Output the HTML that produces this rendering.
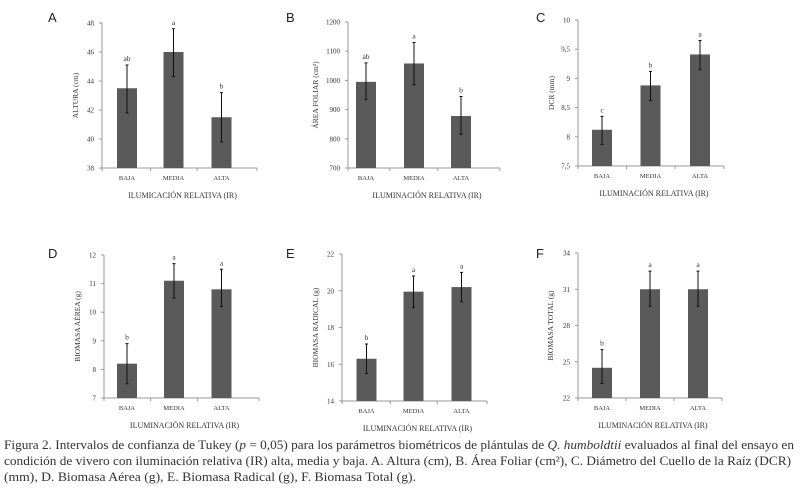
<!DOCTYPE html>
<html><head><meta charset="utf-8"><style>
body{margin:0;background:#fff;width:801px;height:492px;overflow:hidden}
svg{display:block}
text{font-family:"Liberation Serif",serif;fill:#333}
.lt{font-family:"Liberation Sans",sans-serif;font-size:13px;fill:#222}
</style></head><body>
<svg id="fig" width="801" height="492" viewBox="0 0 801 492"></svg>
<script>
const categories = ["BAJA","MEDIA","ALTA"];
const meansA = [43.5, 46.0, 41.5], lowA = [41.8, 44.3, 39.8], highA = [45.1, 47.6, 43.2], lettersA = ["ab","a","b"], ticksA = [38,40,42,44,46,48];
const meansB = [995, 1058, 878], lowB = [935, 985, 815], highB = [1060, 1130, 945], lettersB = ["ab","a","b"], ticksB = [700,800,900,1000,1100,1200];
const meansC = [8.12, 8.88, 9.41], lowC = [7.87, 8.62, 9.15], highC = [8.35, 9.12, 9.65], lettersC = ["c","b","a"], ticksC = [7.5,8,8.5,9,9.5,10];
const tickLabelsC = ["7,5","8","8,5","9","9,5","10"];
const meansD = [8.2, 11.1, 10.8], lowD = [7.5, 10.5, 10.2], highD = [8.9, 11.7, 11.5], lettersD = ["b","a","a"], ticksD = [7,8,9,10,11,12];
const meansE = [16.3, 19.95, 20.2], lowE = [15.5, 19.1, 19.4], highE = [17.1, 20.8, 21.0], lettersE = ["b","a","a"], ticksE = [14,16,18,20,22];
const meansF = [24.5, 31.0, 31.0], lowF = [23.2, 29.6, 29.6], highF = [26.0, 32.5, 32.5], lettersF = ["b","a","a"], ticksF = [22,25,28,31,34];

const NS="http://www.w3.org/2000/svg";
const svg=document.getElementById('fig');
function mk(tag,attrs,parent,txt){const e=document.createElementNS(NS,tag);for(const k in attrs)e.setAttribute(k,attrs[k]);if(txt!==undefined)e.textContent=txt;(parent||svg).appendChild(e);return e;}

const panels=[
 {id:"a",letter:"A",lx:48,ly:22,ax:102,top:23,bot:168,right:257,xs:[127,173.5,221.5],m:meansA,lo:lowA,hi:highA,let:lettersA,t:ticksA,tl:null,ytitle:"ALTURA (cm)",xtitle:"ILUMICACIÓN RELATIVA (IR)",yt:78},
 {id:"b",letter:"B",lx:286,ly:22,ax:348,top:22,bot:168,right:500,xs:[366,414,461],m:meansB,lo:lowB,hi:highB,let:lettersB,t:ticksB,tl:null,ytitle:"ÁREA FOLIAR (cm²)",xtitle:"ILUMINACIÓN RELATIVA (IR)",yt:318},
 {id:"c",letter:"C",lx:536,ly:22,ax:578,top:20,bot:166,right:724,xs:[602,650.5,700],m:meansC,lo:lowC,hi:highC,let:lettersC,t:ticksC,tl:tickLabelsC,ytitle:"DCR (mm)",xtitle:"ILUMINACIÓN RELATIVA (IR)",yt:554},
 {id:"d",letter:"D",lx:48,ly:258,ax:104,top:255,bot:398,right:259,xs:[127,174,221.5],m:meansD,lo:lowD,hi:highD,let:lettersD,t:ticksD,tl:null,ytitle:"BIOMASA AÉREA (g)",xtitle:"ILUMINACIÓN RELATIVA (IR)",yt:80},
 {id:"e",letter:"E",lx:286,ly:258,ax:342,top:254,bot:401,right:487,xs:[366.5,413.5,461.5],m:meansE,lo:lowE,hi:highE,let:lettersE,t:ticksE,tl:null,ytitle:"BIOMASA RADICAL (g)",xtitle:"ILUMINACIÓN RELATIVA (IR)",yt:318},
 {id:"f",letter:"F",lx:536,ly:258,ax:578,top:253,bot:398,right:722,xs:[602,650,698],m:meansF,lo:lowF,hi:highF,let:lettersF,t:ticksF,tl:null,ytitle:"BIOMASA TOTAL (g)",xtitle:"ILUMINACIÓN RELATIVA (IR)",yt:553}
];

panels.forEach(p=>{
 const g=mk('g',{});
 
 
 const tmin=p.t[0], tmax=p.t[p.t.length-1];
 const y=v=>p.bot-(v-tmin)/(tmax-tmin)*(p.bot-p.top);
 const pl=mk('text',{x:p.lx,y:p.ly,class:'lt'},g,p.letter);
 
 
 const ya=mk('line',{x1:p.ax,y1:p.top,x2:p.ax,y2:p.bot,stroke:'#999','stroke-width':1},g);
 
 
 const xa=mk('line',{x1:p.ax,y1:p.bot,x2:p.right,y2:p.bot,stroke:'#999','stroke-width':1},g);
 
 
 p.t.forEach((tv,i)=>{
  const yy=y(tv);
  mk('line',{x1:p.ax-3,y1:yy,x2:p.ax,y2:yy,stroke:'#999'},g);
  const tl=mk('text',{x:p.ax-8,y:yy+2.5,'text-anchor':'end','font-size':7},g,p.tl?p.tl[i]:String(tv));
  
  
 });
 const step=(p.xs[2]-p.xs[0])/2;
 [p.ax, p.xs[0]+step/2, p.xs[1]+step/2, p.right].forEach(xx=>mk('line',{x1:xx,y1:p.bot,x2:xx,y2:p.bot+3,stroke:'#999'},g));
 categories.forEach((c,i)=>{
  const cx=p.xs[i];
  const b=mk('rect',{x:cx-10,y:y(p.m[i]),width:20,height:p.bot-y(p.m[i]),fill:'#5a5a5a'},g);
  
  
  const e=mk('path',{d:`M${cx},${y(p.hi[i])}V${y(p.lo[i])}M${cx-1.5},${y(p.hi[i])}H${cx+1.5}M${cx-1.5},${y(p.lo[i])}H${cx+1.5}`,stroke:'#111','stroke-width':1,fill:'none'},g);
  
  
  const l=mk('text',{x:cx,y:y(p.hi[i])-4,'text-anchor':'middle','font-size':7.5},g,p.let[i]);
  
  
  const cl=mk('text',{x:cx,y:p.bot+12,'text-anchor':'middle','font-size':6.5},g,c);
  
  
 });
 const yt=mk('text',{x:p.yt,y:(p.top+p.bot)/2,'text-anchor':'middle','font-size':7.5,transform:`rotate(-90 ${p.yt} ${(p.top+p.bot)/2})`},g,p.ytitle);
 
 
 const xt=mk('text',{x:(p.ax+p.right)/2+3,y:p.bot+30,'text-anchor':'middle','font-size':8},g,p.xtitle);
 
 
});

const cap=mk('g',{});


const l1=mk('text',{x:4,y:449,'font-size':12.5,textLength:790,lengthAdjust:'spacingAndGlyphs'},cap);
l1.innerHTML='Figura 2. Intervalos de confianza de Tukey (<tspan font-style="italic">p</tspan> = 0,05) para los parámetros biométricos de plántulas de <tspan font-style="italic">Q. humboldtii</tspan> evaluados al final del ensayo en';
mk('text',{x:4,y:465,'font-size':12.5,textLength:787,lengthAdjust:'spacingAndGlyphs'},cap,'condición de vivero con iluminación relativa (IR) alta, media y baja. A. Altura (cm), B. Área Foliar (cm²), C. Diámetro del Cuello de la Raíz (DCR)');
mk('text',{x:4,y:481,'font-size':12.5,textLength:412,lengthAdjust:'spacingAndGlyphs'},cap,'(mm), D. Biomasa Aérea (g), E. Biomasa Radical (g), F. Biomasa Total (g).');
</script>
</body></html>
